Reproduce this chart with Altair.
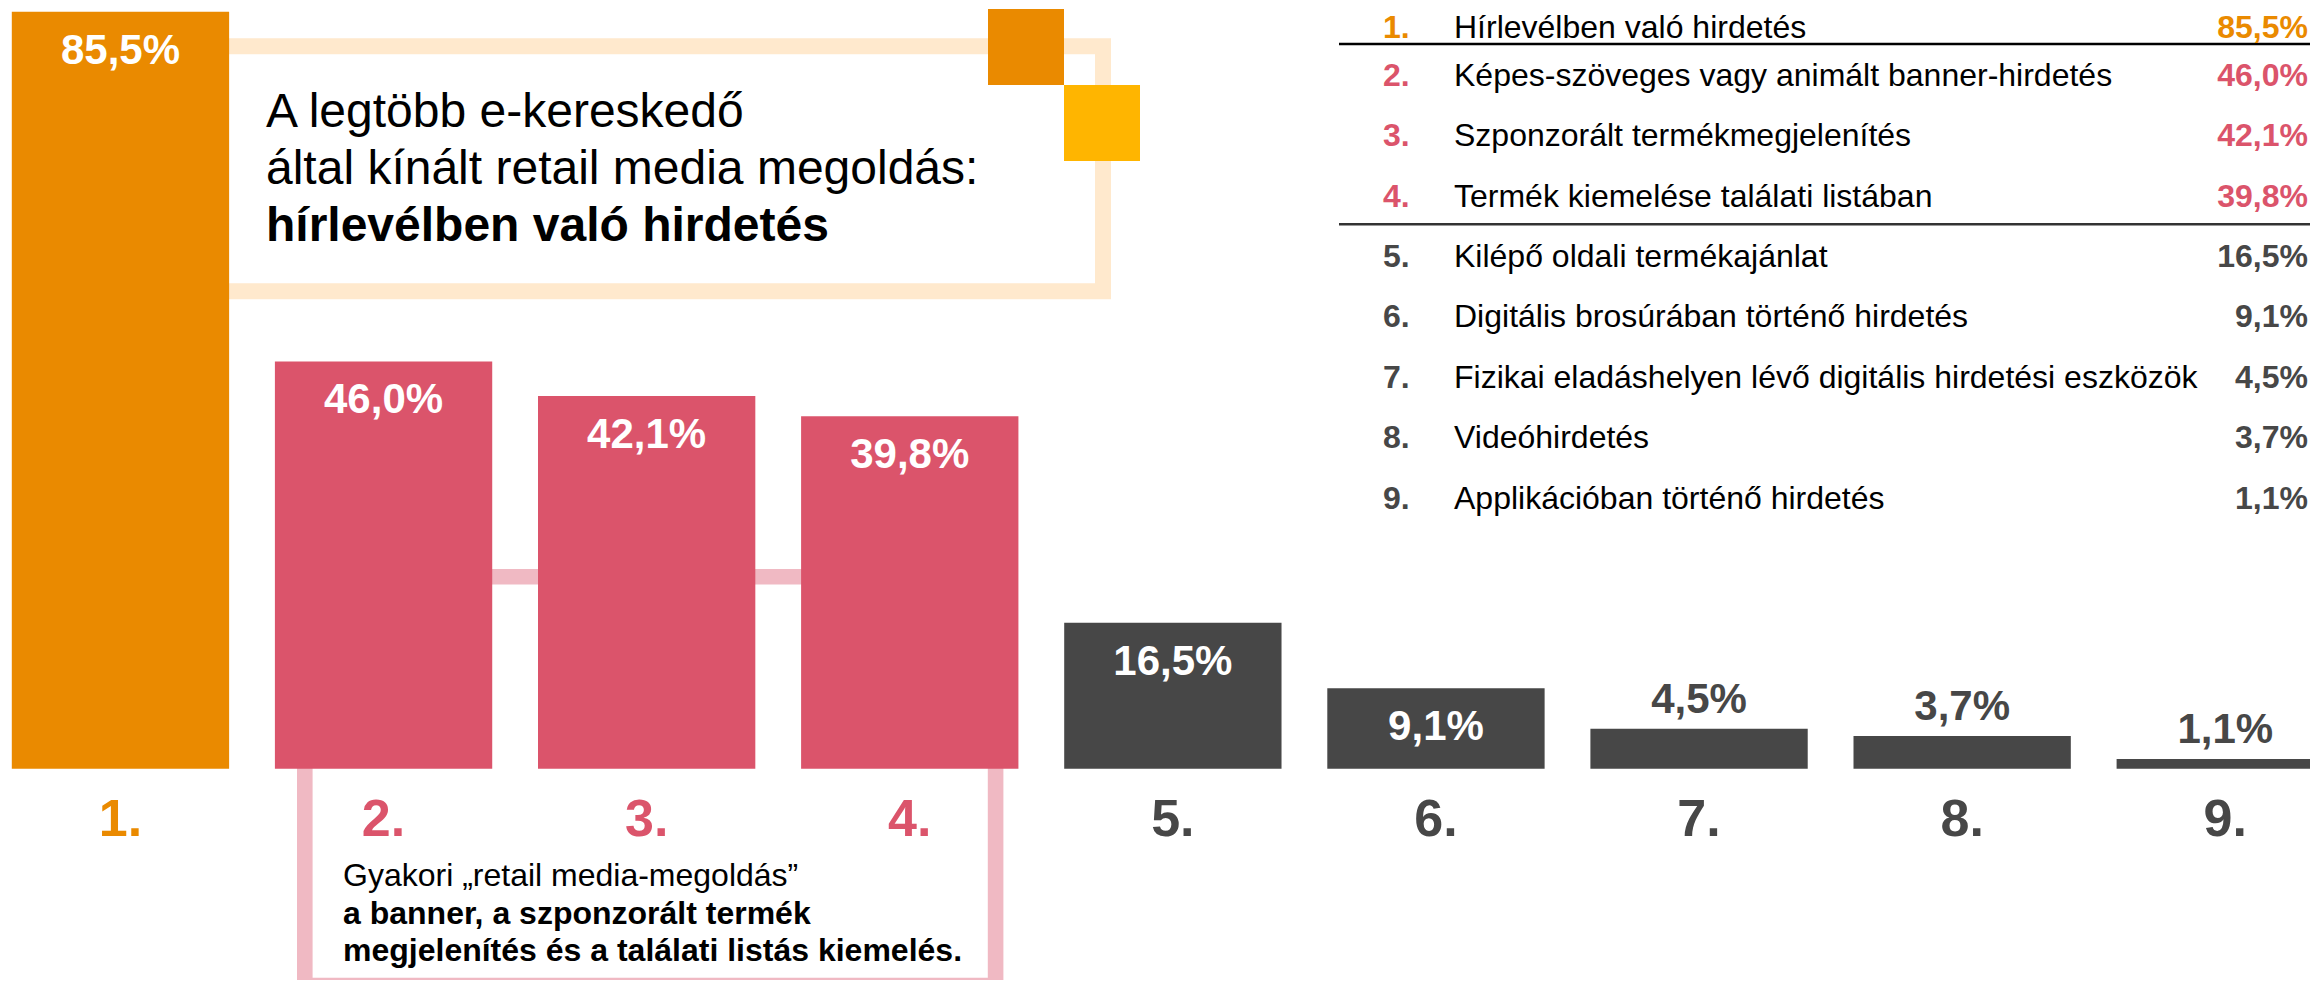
import altair as alt
import pandas as pd

# ---------------- data ----------------
categories = ["1.", "2.", "3.", "4.", "5.", "6.", "7.", "8.", "9."]
values = [85.5, 46.0, 42.1, 39.8, 16.5, 9.1, 4.5, 3.7, 1.1]
groups = ["kiemelt", "gyakori", "gyakori", "gyakori", "egyéb", "egyéb", "egyéb", "egyéb", "egyéb"]
names = [
    "Hírlevélben való hirdetés",
    "Képes-szöveges vagy animált banner-hirdetés",
    "Szponzorált termékmegjelenítés",
    "Termék kiemelése találati listában",
    "Kilépő oldali termékajánlat",
    "Digitális brosúrában történő hirdetés",
    "Fizikai eladáshelyen lévő digitális hirdetési eszközök",
    "Videóhirdetés",
    "Applikációban történő hirdetés",
]
title_lines = ["A legtöbb e-kereskedő", "által kínált retail media megoldás:", "hírlevélben való hirdetés"]
note_lines = ["Gyakori „retail media-megoldás”", "a banner, a szponzorált termék",
              "megjelenítés és a találati listás kiemelés."]

# ---------------- styles ----------------
FONT = "Liberation Sans"
ORANGE = "#EA8A00"
PINK = "#DB546B"
GRAY = "#474747"
LIGHT_PINK = "#F0B9C3"
PEACH = "#FFE9CD"
YELLOW = "#FFB500"
O = 8  # page margin offset (chart coords = page coords - 8)

df = pd.DataFrame({
    "cat": categories,
    "value": values,
    "group": groups,
    "name": names,
    "row": list(range(1, len(categories) + 1)),
})
df["label"] = [f"{v:.1f}%".replace(".", ",") for v in values]
df["zero"] = 0

step = 263.1
pin = 0.174
x_scale = alt.Scale(type="band", domain=categories,
                    range=[11.8 - O, 11.8 - O + step * (len(categories) - pin)],
                    paddingInner=pin, paddingOuter=0, round=False)
y_scale = alt.Scale(domain=[0, 85.5], range=[768.7 - O, 11.8 - O], nice=False, zero=True)
color_scale = alt.Scale(domain=["kiemelt", "gyakori", "egyéb"], range=[ORANGE, PINK, GRAY])
row_scale = alt.Scale(domain=[1, 9], range=[25.5 - O, 508.5 - O], nice=False, zero=False)

one = pd.DataFrame({"k": [0]})


def box(x1, x2, y1, y2, **kw):
    return alt.Chart(one).mark_rect(**kw).encode(
        x=alt.value(x1 - O), x2=alt.value(x2 - O), y=alt.value(y1 - O), y2=alt.value(y2 - O))


def line_text(txt, x, y, size, bold=False, color="#000000", align="left"):
    return alt.Chart(one).mark_text(
        text=txt, font=FONT, fontSize=size, fontWeight="bold" if bold else "normal",
        color=color, align=align, baseline="alphabetic"
    ).encode(x=alt.value(x - O), y=alt.value(y - O))


# decorations
peach_frame = box(150, 1103, 46.3, 291.2, fill="white", stroke=PEACH, strokeWidth=16)
pink_frame = box(304.8, 995.6, 576.8, 985.5, fill="white", stroke=LIGHT_PINK, strokeWidth=15.6)
sq_orange = box(988, 1064, 9, 85, fill=ORANGE)
sq_yellow = box(1064, 1140, 85, 161, fill=YELLOW)

X = alt.X("cat:N", scale=x_scale, axis=None)
bars = alt.Chart(df).mark_bar().encode(
    x=X,
    y=alt.Y("value:Q", scale=y_scale, axis=None),
    color=alt.Color("group:N", scale=color_scale, legend=None),
)

lab_in = alt.Chart(df).transform_filter("datum.value >= 9").mark_text(
    font=FONT, fontSize=42, fontWeight="bold", color="white", align="center",
    baseline="alphabetic", dy=52
).encode(x=X, y=alt.Y("value:Q", scale=y_scale, axis=None), text="label:N")

lab_out = alt.Chart(df).transform_filter("datum.value < 9").mark_text(
    font=FONT, fontSize=42, fontWeight="bold", color=GRAY, align="center",
    baseline="alphabetic", dy=-16
).encode(x=X, y=alt.Y("value:Q", scale=y_scale, axis=None), text="label:N")

cat_lab = alt.Chart(df).mark_text(
    font=FONT, fontSize=52, fontWeight="bold", align="center", baseline="alphabetic", dy=66.8
).encode(
    x=X, y=alt.Y("zero:Q", scale=y_scale, axis=None), text="cat:N",
    color=alt.Color("group:N", scale=color_scale, legend=None),
)

# title box text
titles = [
    line_text(title_lines[0], 266, 126.5, 48),
    line_text(title_lines[1], 266, 183.5, 48),
    line_text(title_lines[2], 266, 240.5, 48, bold=True),
]
notes = [
    line_text(note_lines[0], 343, 886, 32),
    line_text(note_lines[1], 343, 923.5, 32, bold=True),
    line_text(note_lines[2], 343, 961, 32, bold=True),
]

# table
RY = alt.Y("row:Q", scale=row_scale, axis=None)


def table_col(field, x, align, bold, colored):
    layers = []
    for cond, dy in (("datum.row == 1", 12), ("datum.row > 1", 0)):
        enc = dict(x=alt.value(x - O), y=RY, text=f"{field}:N")
        if colored:
            enc["color"] = alt.Color("group:N", scale=color_scale, legend=None)
        mk = dict(font=FONT, fontSize=32, fontWeight="bold" if bold else "normal",
                  align=align, baseline="alphabetic", dy=dy)
        if not colored:
            mk["color"] = "#000000"
        layers.append(alt.Chart(df).transform_filter(cond).mark_text(**mk).encode(**enc))
    return layers


t_num = table_col("cat", 1383, "left", True, True)
t_name = table_col("name", 1454, "left", False, False)
t_val = table_col("label", 2308, "right", True, True)

sep1 = alt.Chart(one).mark_rule(color="#000000", strokeWidth=2.5).encode(
    x=alt.value(1339 - O), x2=alt.value(2310), y=alt.value(44 - O))
sep2 = alt.Chart(one).mark_rule(color="#333333", strokeWidth=2.5).encode(
    x=alt.value(1339 - O), x2=alt.value(2310), y=alt.value(224.3 - O))

chart = alt.layer(
    peach_frame, pink_frame, bars, sq_orange, sq_yellow,
    lab_in, lab_out, cat_lab, *titles, *notes,
    sep1, sep2, *t_num, *t_name, *t_val,
).resolve_scale(
    x="independent", y="independent", color="independent"
).properties(
    width=2302, height=972, padding=0,
    autosize=alt.AutoSizeParams(type="none"),
    background="white",
).configure_view(stroke=None)

chart.save("out.html", embed_options={"renderer": "svg", "actions": False})
